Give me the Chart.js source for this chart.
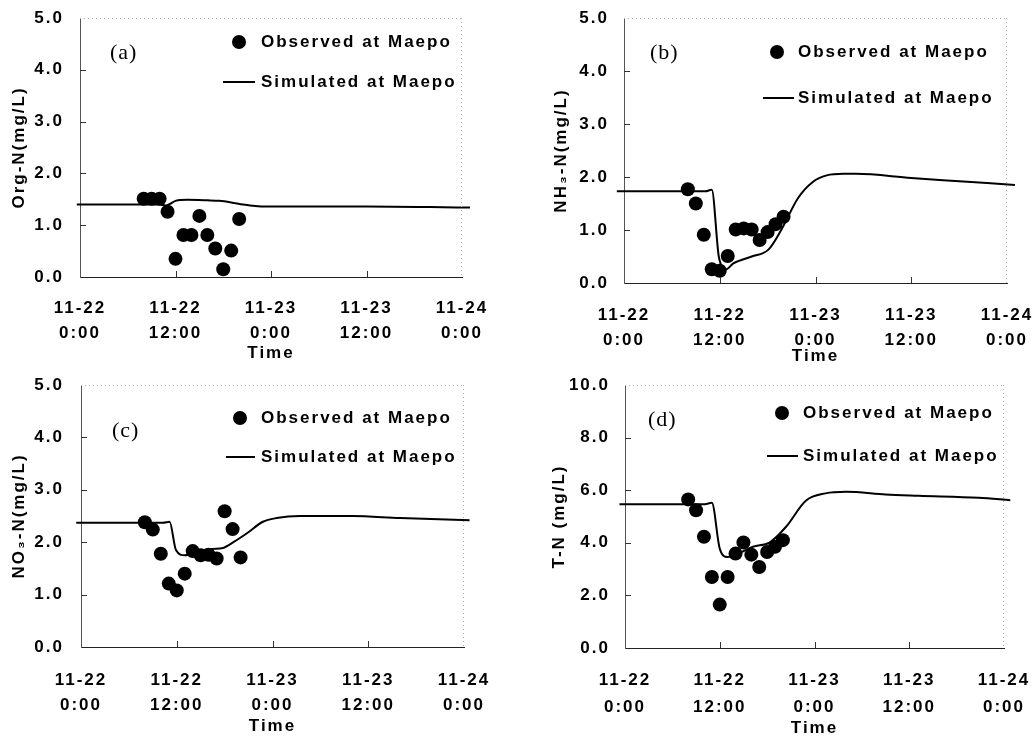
<!DOCTYPE html>
<html>
<head>
<meta charset="utf-8">
<script src="https://cdn.jsdelivr.net/npm/chart.js@4.4.0/dist/chart.umd.min.js"></script>
<style>
  body { margin: 0; background: #fff; }
  #wrap { position: relative; width: 1035px; height: 736px; overflow: hidden; }
  #wrap canvas { position: absolute; }
</style>
</head>
<body>
<div id="wrap">
  <canvas id="chartA" width="517" height="368" style="left:0;top:0"></canvas>
  <canvas id="chartB" width="518" height="368" style="left:517px;top:0"></canvas>
  <canvas id="chartC" width="517" height="368" style="left:0;top:368px"></canvas>
  <canvas id="chartD" width="518" height="368" style="left:517px;top:368px"></canvas>
</div>
<script>
// hours after 11-22 0:00
const obsHours = [8, 9, 10, 11, 12, 13, 14, 15, 16, 17, 18, 19, 20];
const timeTicks = [["11-22", "0:00"], ["11-22", "12:00"], ["11-23", "0:00"], ["11-23", "12:00"], ["11-24", "0:00"]];

const orgObs = [1.51, 1.51, 1.51, 1.26, 0.35, 0.81, 0.81, 1.18, 0.81, 0.55, 0.15, 0.51, 1.12];
const orgSimHours = [-0.4, 6, 10, 10.8, 11.3, 12, 13.5, 16, 17.5, 19, 20.5, 22, 23.5, 26, 36, 44, 49];
const orgSim = [1.40, 1.40, 1.40, 1.38, 1.41, 1.47, 1.49, 1.48, 1.47, 1.44, 1.40, 1.37, 1.36, 1.36, 1.36, 1.35, 1.34];

const nh3Obs = [1.77, 1.50, 0.91, 0.26, 0.23, 0.51, 1.01, 1.03, 1.01, 0.81, 0.96, 1.11, 1.25];
const nh3SimHours = [-0.9, 6, 10.2, 11.0, 11.9, 12.8, 13.7, 16, 18.1, 19.7, 21.8, 23.7, 25.4, 27.5, 29.1, 36, 42, 49];
const nh3Sim = [1.73, 1.73, 1.73, 1.76, 0.48, 0.26, 0.37, 0.50, 0.63, 1.00, 1.60, 1.91, 2.03, 2.06, 2.06, 1.98, 1.92, 1.85];

const no3Obs = [2.38, 2.24, 1.78, 1.21, 1.08, 1.40, 1.83, 1.75, 1.76, 1.69, 2.59, 2.25, 1.71];
const no3SimHours = [-0.6, 6, 10.3, 11.1, 11.9, 13.0, 14.9, 16.5, 17.8, 19.1, 20.8, 22.8, 24.5, 27.4, 34, 40, 48.7];
const no3Sim = [2.37, 2.37, 2.37, 2.39, 1.85, 1.75, 1.84, 1.87, 1.89, 2.00, 2.17, 2.39, 2.46, 2.50, 2.50, 2.46, 2.42];

const tnObs = [5.65, 5.24, 4.23, 2.70, 1.65, 2.70, 3.59, 4.01, 3.55, 3.08, 3.65, 3.85, 4.10];
const tnSimHours = [-0.7, 6, 10.1, 11.0, 12.0, 13.0, 14.1, 16.2, 18.3, 20.4, 22.9, 25.4, 28, 33, 37.2, 44.8, 48.8];
const tnSim = [5.47, 5.47, 5.47, 5.52, 3.78, 3.46, 3.55, 3.85, 4.01, 4.61, 5.60, 5.88, 5.94, 5.84, 5.79, 5.71, 5.62];

const FONT = '"Liberation Sans", Arial, sans-serif';
const FS = 17;

const panels = [
    { id: "chartA", tag: "(a)", yTitle: "Org-N(mg/L)", yMax: 5, yStep: 1, obs: orgObs, simHours: orgSimHours, sim: orgSim,
      padTop: 18, padRight: 55, yWidth: 80, xHeight: 91, yTickPad: 16, xTickPad: 18.5, xLineH: 25, yTitlePad: 11, xTitlePad: 6,
      tagX: 110, tagY: 53, dotX: 239, textX: 261, legY1: 42, legY2: 82, lineX1: 223, lineX2: 255 },
    { id: "chartB", tag: "(b)", yTitle: "NH\u2083-N(mg/L)", yMax: 5, yStep: 1, obs: nh3Obs, simHours: nh3SimHours, sim: nh3Sim,
      padTop: 18, padRight: 28, yWidth: 107, xHeight: 85, yTickPad: 15, xTickPad: 19.5, xLineH: 25, yTitlePad: 36, xTitlePad: 3,
      tagX: 133, tagY: 53, dotX: 260, textX: 281, legY1: 52, legY2: 98, lineX1: 246, lineX2: 277 },
    { id: "chartC", tag: "(c)", yTitle: "NO\u2083-N(mg/L)", yMax: 5, yStep: 1, obs: no3Obs, simHours: no3SimHours, sim: no3Sim,
      padTop: 17, padRight: 53, yWidth: 81, xHeight: 89, yTickPad: 17, xTickPad: 20.5, xLineH: 25, yTitlePad: 11, xTitlePad: 1,
      tagX: 112, tagY: 63, dotX: 240, textX: 261, legY1: 50, legY2: 89, lineX1: 226, lineX2: 255 },
    { id: "chartD", tag: "(d)", yTitle: "T-N (mg/L)", yMax: 10, yStep: 2, obs: tnObs, simHours: tnSimHours, sim: tnSim,
      padTop: 17, padRight: 31, yWidth: 108, xHeight: 88, yTickPad: 15, xTickPad: 18.5, xLineH: 27, yTitlePad: 34, xTitlePad: -1,
      tagX: 131, tagY: 52, dotX: 265, textX: 286, legY1: 45, legY2: 88, lineX1: 250, lineX2: 281 }
];

// frame, inward ticks, panel tag and legend
const decor = {
    id: "decor",
    beforeLayout(chart) { chart.ctx.letterSpacing = "2px"; },
    beforeDraw(chart) { chart.ctx.letterSpacing = "2px"; },
    afterDraw(chart, args, o) {
        const { ctx, chartArea: a, scales: { x, y } } = chart;
        ctx.save();
        ctx.lineWidth = 1;
        ctx.strokeStyle = "#b4b4b4";
        ctx.setLineDash([1, 3]);
        ctx.beginPath();
        ctx.moveTo(a.left, Math.round(a.top) + 0.5);
        ctx.lineTo(a.right, Math.round(a.top) + 0.5);
        ctx.moveTo(Math.round(a.right) - 0.5, a.top);
        ctx.lineTo(Math.round(a.right) - 0.5, a.bottom);
        ctx.stroke();

        ctx.setLineDash([]);
        ctx.strokeStyle = "#333";
        ctx.beginPath();
        y.ticks.slice(1, -1).forEach(t => {
            const py = Math.round(y.getPixelForValue(t.value)) + 0.5;
            ctx.moveTo(a.left, py);
            ctx.lineTo(a.left + 6, py);
        });
        x.ticks.slice(1, -1).forEach(t => {
            const px = Math.round(x.getPixelForValue(t.value)) + 0.5;
            ctx.moveTo(px, a.bottom);
            ctx.lineTo(px, a.bottom - 6);
        });
        ctx.stroke();

        ctx.fillStyle = "#000";
        ctx.textAlign = "left";
        ctx.textBaseline = "middle";
        ctx.letterSpacing = "1px";
        ctx.font = '22px "Liberation Serif", "Times New Roman", serif';
        ctx.fillText(o.tag, o.tagX, o.tagY);

        const [obsSet, simSet] = chart.data.datasets;
        ctx.letterSpacing = "2px";
        ctx.font = "bold " + FS + "px " + FONT;
        ctx.beginPath();
        ctx.arc(o.dotX, o.legY1, 7, 0, Math.PI * 2);
        ctx.fill();
        ctx.fillText(obsSet.label, o.textX, o.legY1);
        ctx.strokeStyle = "#000";
        ctx.lineWidth = 2;
        ctx.beginPath();
        ctx.moveTo(o.lineX1, o.legY2);
        ctx.lineTo(o.lineX2, o.legY2);
        ctx.stroke();
        ctx.fillText(simSet.label, o.textX, o.legY2);
        ctx.restore();
    }
};

function makePanel(p) {
    const tickFont = { family: FONT, size: FS, weight: "bold" };
    return new Chart(document.getElementById(p.id), {
        data: {
            datasets: [
                {
                    type: "scatter",
                    label: "Observed at Maepo",
                    data: obsHours.map((h, i) => ({ x: h, y: p.obs[i] })),
                    pointRadius: 7,
                    pointBackgroundColor: "#000",
                    pointBorderColor: "#000",
                    pointBorderWidth: 0,
                    clip: false,
                    order: 1
                },
                {
                    type: "line",
                    label: "Simulated at Maepo",
                    data: p.simHours.map((h, i) => ({ x: h, y: p.sim[i] })),
                    borderColor: "#000",
                    borderWidth: 2,
                    pointRadius: 0,
                    cubicInterpolationMode: "monotone",
                    fill: false,
                    clip: false,
                    order: 2
                }
            ]
        },
        options: {
            responsive: false,
            animation: false,
            devicePixelRatio: 1,
            layout: { padding: { left: 0, top: p.padTop, right: p.padRight, bottom: 0 } },
            plugins: {
                legend: { display: false },
                tooltip: { enabled: false },
                decor: p
            },
            scales: {
                x: {
                    type: "linear",
                    min: 0,
                    max: 48,
                    grid: { display: false, drawTicks: false },
                    border: { display: true, color: "#222", width: 1 },
                    ticks: {
                        stepSize: 12,
                        maxRotation: 0,
                        autoSkip: false,
                        padding: p.xTickPad,
                        color: "#000",
                        font: Object.assign({ lineHeight: p.xLineH / FS }, tickFont),
                        callback: v => timeTicks[v / 12]
                    },
                    title: {
                        display: true,
                        text: "Time",
                        color: "#000",
                        font: Object.assign({ lineHeight: 1 }, tickFont),
                        padding: { top: 0, bottom: p.xTitlePad }
                    },
                    afterFit: s => {
                        s.height = p.xHeight;
                        s.paddingLeft = 0;
                        s.paddingRight = 0;
                    }
                },
                y: {
                    min: 0,
                    max: p.yMax,
                    grid: { display: false, drawTicks: false },
                    border: { display: true, color: "#555", width: 1 },
                    ticks: {
                        stepSize: p.yStep,
                        padding: p.yTickPad,
                        color: "#000",
                        font: Object.assign({ lineHeight: 1.2 }, tickFont),
                        callback: v => v.toFixed(1)
                    },
                    title: {
                        display: true,
                        text: p.yTitle,
                        color: "#000",
                        font: Object.assign({ lineHeight: 1 }, tickFont),
                        padding: { top: p.yTitlePad, bottom: 0 }
                    },
                    afterFit: s => {
                        s.width = p.yWidth;
                        s.paddingTop = 0;
                        s.paddingBottom = 0;
                    }
                }
            }
        },
        plugins: [decor]
    });
}

panels.forEach(makePanel);
</script>
</body>
</html>
